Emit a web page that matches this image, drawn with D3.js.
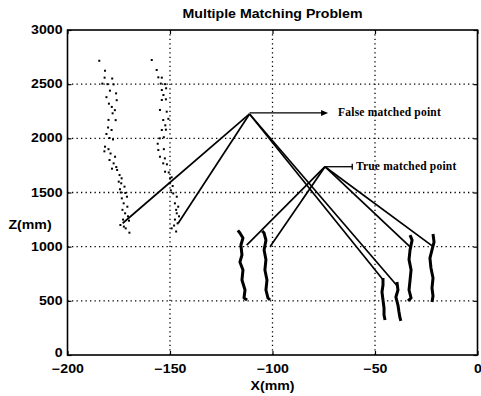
<!DOCTYPE html>
<html><head><meta charset="utf-8">
<script src="https://cdn.jsdelivr.net/npm/d3@7"></script>
<style>body{margin:0;background:#fff}</style>
</head><body>
<script>
// ---- data ----
const title = "Multiple Matching Problem";
const xTicks = [-200, -150, -100, -50, 0];
const yTicks = [0, 500, 1000, 1500, 2000, 2500, 3000];
const xLabel = "X(mm)", yLabel = "Z(mm)";

// scattered (dotted) reconstructed points
const dotsLeft = [[-184.5,2716],[-181.7,2624],[-181.9,2560],[-178.2,2552],[-183.0,2505],[-180.5,2500],[-177.5,2498],[-179.3,2440],[-176.3,2415],[-181.0,2380],[-176.0,2352],[-179.8,2320],[-178.4,2290],[-176.9,2260],[-178.0,2231],[-180.0,2170],[-176.5,2168],[-180.2,2100],[-178.5,2077],[-181.0,2040],[-179.5,2003],[-177.8,1990],[-181.7,1923],[-180.0,1900],[-182.0,1880],[-179.0,1860],[-176.8,1830],[-179.5,1800],[-177.5,1769],[-176.2,1735],[-178.3,1720],[-175.8,1708],[-174.6,1661],[-173.6,1631],[-175.0,1600],[-173.8,1585],[-172.2,1554],[-174.4,1530],[-174.0,1500],[-171.8,1496],[-173.5,1446],[-171.0,1461],[-172.6,1400],[-170.8,1369],[-173.2,1340],[-171.9,1308],[-170.5,1280],[-172.9,1250],[-170.0,1240],[-174.2,1200],[-172.5,1185],[-171.6,1169],[-169.8,1129]];
const dotsRight = [[-158.9,2723],[-156.5,2631],[-155.7,2563],[-154.0,2560],[-154.5,2505],[-152.4,2500],[-154.0,2446],[-151.9,2462],[-153.2,2400],[-154.0,2354],[-152.0,2360],[-154.9,2262],[-151.6,2246],[-153.3,2169],[-150.8,2180],[-152.3,2120],[-154.0,2077],[-152.0,2080],[-155.0,2000],[-153.0,2010],[-156.0,1950],[-155.7,1892],[-153.0,1900],[-154.9,1830],[-152.5,1815],[-153.3,1769],[-151.5,1760],[-152.4,1692],[-150.6,1685],[-150.0,1631],[-149.2,1640],[-150.2,1585],[-148.7,1560],[-149.6,1520],[-148.4,1492],[-146.7,1461],[-147.6,1400],[-146.0,1369],[-147.0,1340],[-146.7,1308],[-145.6,1280],[-147.6,1250],[-146.3,1215],[-148.0,1195],[-149.2,1169],[-147.0,1140]];

// dense (solid) point strands
const strand1 = [[-116.9,1150],[-115.9,1126],[-114.4,1080],[-115.4,1015],[-114.9,923],[-115.9,858],[-114.4,785],[-114.9,692],[-113.4,600],[-113.9,526],[-112.4,508]];
const strand2 = [[-105.0,1145],[-104.1,1126],[-103.2,1060],[-104.1,970],[-103.2,880],[-103.7,785],[-102.7,692],[-103.2,600],[-102.2,526],[-101.2,508]];
const strand3 = [[-32.9,1107],[-31.9,1060],[-32.9,970],[-33.4,880],[-32.4,785],[-32.9,692],[-33.4,600],[-32.4,526],[-33.9,500]];
const strand4 = [[-21.7,1117],[-21.2,1043],[-22.2,970],[-23.2,895],[-22.7,803],[-21.7,711],[-22.2,618],[-21.7,545],[-22.2,490]];
const strandA = [[-46.1,711],[-46.1,646],[-46.6,582],[-46.1,508],[-45.6,434],[-45.6,369],[-45.1,323]];
const strandB = [[-39.3,674],[-38.8,600],[-39.8,535],[-38.8,461],[-38.3,397],[-37.8,342],[-37.4,314]];

// matched points and the reconstructed-point ends they link to
const falsePoint = [-111.2, 2225];
const falseEnds = [[-173.1,1216],[-146.0,1216],[-46.0,692],[-38.8,630]];
const truePoint = [-74.4, 1738];
const trueEnds = [[-112.6,1015],[-101.2,1000],[-32.1,985],[-21.6,1000]];
const falseLabel = "False matched point";
const trueLabel = "True matched point";
const falseArrowEnd = -72.9, falseTextX = -68.0;
const trueArrowEnd = -61.1, trueTextX = -59.3;

// ---- drawing ----
const W = 481, H = 396;
const svg = d3.select("body").append("svg").attr("width", W).attr("height", H);
const x = d3.scaleLinear().domain([-200, 0]).range([67.5, 477.5]);
const y = d3.scaleLinear().domain([0, 3000]).range([355, 30]);
const SX = 1.18;
const sans = "Liberation Sans, Arial, sans-serif";
const serif = "Liberation Serif, Times New Roman, serif";

// grid
const grid = svg.append("g").attr("stroke", "#000").attr("stroke-width", 1.3).attr("stroke-dasharray", "1.3,3.2");
grid.selectAll(".gx").data(xTicks.slice(1, -1)).join("line")
  .attr("x1", d => x(d)).attr("x2", d => x(d)).attr("y1", y(0)).attr("y2", y(3000));
grid.selectAll(".gy").data(yTicks.slice(1, -1)).join("line")
  .attr("x1", x(-200)).attr("x2", x(0)).attr("y1", d => y(d)).attr("y2", d => y(d));

// axes
const ax = svg.append("g").attr("transform", `translate(0,${y(0)})`)
  .call(d3.axisBottom(x).tickValues(xTicks).tickFormat(d3.format("d")).tickSizeInner(-4).tickSizeOuter(0).tickPadding(9));
const ay = svg.append("g").attr("transform", `translate(${x(-200)},0)`)
  .call(d3.axisLeft(y).tickValues(yTicks).tickFormat(d3.format("d")).tickSizeInner(-4).tickSizeOuter(0).tickPadding(5));
svg.append("g").attr("transform", `translate(0,${y(3000)})`)
  .call(d3.axisTop(x).tickValues(xTicks).tickFormat("").tickSizeInner(-4).tickSizeOuter(0));
svg.append("g").attr("transform", `translate(${x(0)},0)`)
  .call(d3.axisRight(y).tickValues(yTicks).tickFormat("").tickSizeInner(-4).tickSizeOuter(0));
svg.selectAll(".domain").remove();
svg.selectAll(".tick line").attr("stroke", "#000").attr("stroke-width", 1.2);
[ax, ay].forEach(g => g.selectAll("text").attr("font-family", sans).attr("font-weight", "bold")
  .attr("font-size", 12).attr("fill", "#000"));
ax.selectAll("text").attr("transform", `scale(${SX},1)`);
ay.selectAll("text").attr("x", -5 / SX).attr("dy", d => d === 0 ? "0.1em" : "0.3em").attr("transform", `scale(${SX},1)`);

// frame
svg.append("rect").attr("x", x(-200)).attr("y", y(3000)).attr("width", x(0) - x(-200)).attr("height", y(0) - y(3000))
  .attr("fill", "none").attr("stroke", "#000").attr("stroke-width", 1.6);

// texts
function sText(t, cx, by, anchor) {
  svg.append("text").attr("transform", `translate(${cx},${by}) scale(${SX},1)`)
    .attr("text-anchor", anchor).attr("font-family", sans).attr("font-weight", "bold")
    .attr("font-size", 12).attr("fill", "#000").text(t);
}
sText(title, (x(-200) + x(0)) / 2, 18, "middle");
sText(xLabel, (x(-200) + x(0)) / 2, 390, "middle");
sText(yLabel, 30, 229, "middle");

// dotted strands
const dotG = svg.append("g").attr("fill", "#000");
[dotsLeft, dotsRight].forEach(arr => {
  dotG.selectAll(null).data(arr).join("rect")
    .attr("x", d => x(d[0]) - 1).attr("y", d => y(d[1]) - 1).attr("width", 2).attr("height", 2);
});

// solid strands
const line = d3.line().x(d => x(d[0])).y(d => y(d[1])).curve(d3.curveLinear);
[strand1, strand2, strand3, strand4, strandA, strandB].forEach(s => {
  svg.append("path").attr("d", line(s)).attr("fill", "none").attr("stroke", "#000")
    .attr("stroke-width", 3).attr("stroke-linejoin", "round");
});

// matching lines
const lg = svg.append("g").attr("stroke", "#000").attr("stroke-width", 1.7);
lg.selectAll(".f").data(falseEnds).join("line")
  .attr("x1", x(falsePoint[0])).attr("y1", y(falsePoint[1])).attr("x2", d => x(d[0])).attr("y2", d => y(d[1]));
lg.selectAll(".t").data(trueEnds).join("line")
  .attr("x1", x(truePoint[0])).attr("y1", y(truePoint[1])).attr("x2", d => x(d[0])).attr("y2", d => y(d[1]));

// annotations
const fy = y(falsePoint[1]) - 1;
svg.append("line").attr("x1", x(falsePoint[0])).attr("y1", fy).attr("x2", x(falseArrowEnd) - 5).attr("y2", fy)
  .attr("stroke", "#000").attr("stroke-width", 1.3);
svg.append("path").attr("d", `M${x(falseArrowEnd)},${fy} l-7,-3 l0,6 z`).attr("fill", "#000");
svg.append("text").attr("x", x(falseTextX)).attr("y", fy + 3).attr("font-family", serif).attr("font-weight", "bold")
  .attr("font-size", 11.5).attr("letter-spacing", 0.2).attr("fill", "#000").text(falseLabel);

const ty = y(truePoint[1]);
svg.append("line").attr("x1", x(truePoint[0])).attr("y1", ty).attr("x2", x(trueArrowEnd)).attr("y2", ty)
  .attr("stroke", "#000").attr("stroke-width", 1.3);
svg.append("line").attr("x1", x(trueArrowEnd)).attr("y1", ty - 3).attr("x2", x(trueArrowEnd)).attr("y2", ty + 3)
  .attr("stroke", "#000").attr("stroke-width", 1.3);
svg.append("text").attr("x", x(trueTextX)).attr("y", ty + 3).attr("font-family", serif).attr("font-weight", "bold")
  .attr("font-size", 11.5).attr("letter-spacing", 0.2).attr("fill", "#000").text(trueLabel);
</script>
</body></html>
